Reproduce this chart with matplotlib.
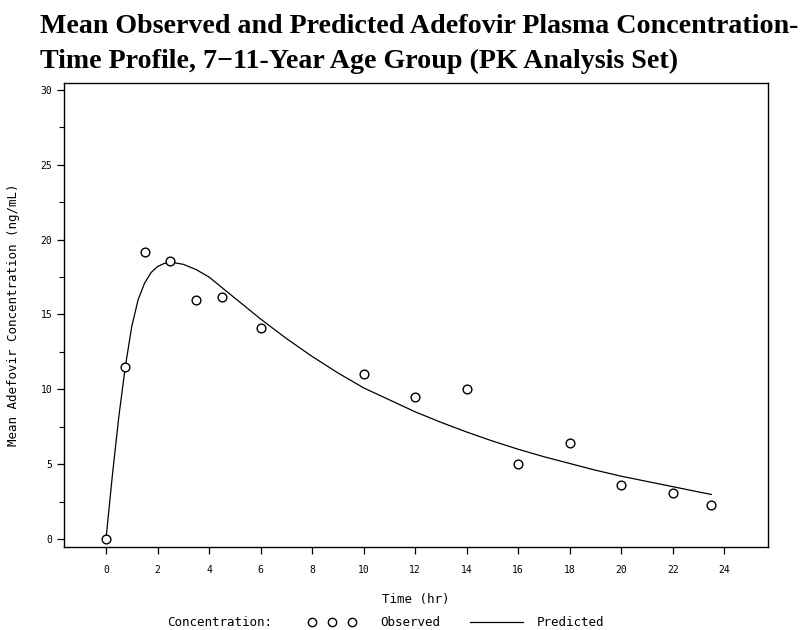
import matplotlib
matplotlib.use("Agg")
import matplotlib.pyplot as plt
from matplotlib.lines import Line2D
from matplotlib.ticker import MultipleLocator

# observed mean concentrations (ng/mL)
obs_time = [0, 0.75, 1.5, 2.5, 3.5, 4.5, 6, 10, 12, 14, 16, 18, 20, 22, 23.5]
obs_conc = [0.0, 11.5, 19.2, 18.6, 16.0, 16.2, 14.1, 11.0, 9.5, 10.0, 5.0, 6.4, 3.6, 3.1, 2.3]

# model predicted profile
pred_time = [0, 0.25, 0.5, 0.75, 1.0, 1.25, 1.5, 1.75, 2.0, 2.25, 2.5, 3.0, 3.5, 4.0,
             5, 6, 7, 8, 9, 10, 11, 12, 13, 14, 15, 16, 17, 18, 19, 20,
             21, 22, 23, 23.5]
pred_conc = [0.0, 4.3, 8.2, 11.5, 14.2, 16.0, 17.1, 17.8, 18.2, 18.4, 18.5, 18.35, 18.0, 17.5,
             16.1, 14.7, 13.4, 12.2, 11.1, 10.1, 9.3, 8.5, 7.8, 7.15, 6.55, 6.0,
             5.5, 5.05, 4.6, 4.2, 3.85, 3.5, 3.15, 2.98]

x_ticks = list(range(0, 25, 2))
y_ticks = [0, 5, 10, 15, 20, 25, 30]

title_lines = ["Mean Observed and Predicted Adefovir Plasma Concentration-",
               "Time Profile, 7\u221211-Year Age Group (PK Analysis Set)"]

MONO = "DejaVu Sans Mono"
W, H = 806, 630

fig = plt.figure(figsize=(8.06, 6.3), dpi=100)
ax = fig.add_axes([64 / W, 1 - 547 / H, 704 / W, 464 / H])

ax.plot(pred_time, pred_conc, color="black", linewidth=0.9)
ax.plot(obs_time, obs_conc, linestyle="none", marker="o", markersize=6.3,
        markerfacecolor="white", markeredgecolor="black", markeredgewidth=1.0)

ax.set_xlim(-1.63, 25.7)
ax.set_ylim(-0.53, 30.46)
ax.set_xticks(x_ticks)
ax.set_yticks(y_ticks)
ax.yaxis.set_minor_locator(MultipleLocator(2.5))
ax.tick_params(axis="both", which="major", direction="out", length=5,
               width=0.9, labelsize=7)
ax.tick_params(axis="y", which="minor", direction="out", length=3.5, width=0.8)
ax.tick_params(axis="x", pad=8)
for lab in ax.get_xticklabels() + ax.get_yticklabels():
    lab.set_family(MONO)
for sp in ax.spines.values():
    sp.set_linewidth(1.0)

ax.set_xlabel("Time (hr)", fontsize=9, family=MONO, labelpad=13)
ax.set_ylabel("Mean Adefovir Concentration (ng/mL)", fontsize=9, family=MONO,
              labelpad=15)

for text, base in zip(title_lines, [33, 68]):
    fig.text(40 / W, 1 - base / H, text, ha="left", va="baseline",
             fontsize=20.2, fontweight="bold", family="Liberation Serif")

# legend row at the bottom, drawn by hand to sit like the SAS footnote legend
leg_y = 1 - 622 / H
fig.text(167 / W, leg_y, "Concentration:", fontsize=9, family=MONO,
         ha="left", va="center")
fig.add_artist(Line2D([312 / W, 332 / W, 352 / W], [leg_y] * 3,
                      transform=fig.transFigure, linestyle="none", marker="o",
                      markersize=6, markerfacecolor="white",
                      markeredgecolor="black", markeredgewidth=1.0))
fig.text(380 / W, leg_y, "Observed", fontsize=9, family=MONO,
         ha="left", va="center")
fig.add_artist(Line2D([470 / W, 523 / W], [leg_y] * 2,
                      transform=fig.transFigure, color="black", linewidth=0.9))
fig.text(537 / W, leg_y, "Predicted", fontsize=9, family=MONO,
         ha="left", va="center")

fig.savefig("out.png", dpi=100)
